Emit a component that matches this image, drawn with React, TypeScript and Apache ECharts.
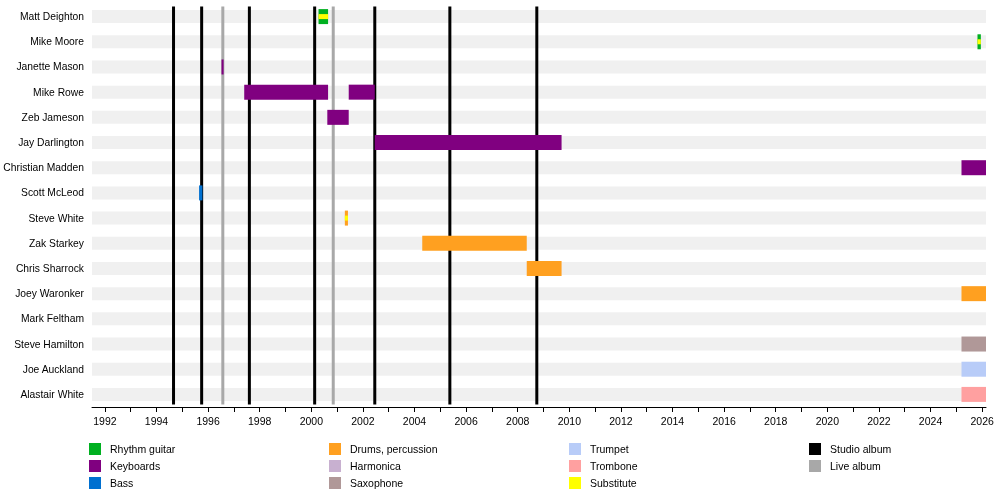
import React, { useEffect, useRef } from 'react';
import * as echarts from 'echarts';

const members = [
  'Matt Deighton', 'Mike Moore', 'Janette Mason', 'Mike Rowe', 'Zeb Jameson', 'Jay Darlington',
  'Christian Madden', 'Scott McLeod', 'Steve White', 'Zak Starkey', 'Chris Sharrock',
  'Joey Waronker', 'Mark Feltham', 'Steve Hamilton', 'Joe Auckland', 'Alastair White',
];

const roleColors: Record<string, string> = {
  guitar: '#00b020',
  keys: '#800080',
  bass: '#0070d0',
  drums: '#ffa020',
  harmonica: '#c8b0d0',
  sax: '#b09898',
  trumpet: '#b8ccf8',
  trombone: '#ffa0a0',
  sub: '#ffff00',
};

// [member index, start, end, role, substitute]
const periods: [number, number, number, string, boolean][] = [
  [0, 2000.28, 2000.65, 'guitar', true],
  [1, 2025.82, 2025.95, 'guitar', true],
  [2, 1996.52, 1996.6, 'keys', false],
  [3, 1997.4, 2000.65, 'keys', false],
  [3, 2001.45, 2002.46, 'keys', false],
  [4, 2000.62, 2001.45, 'keys', false],
  [5, 2002.46, 2009.7, 'keys', false],
  [6, 2025.2, 2026.15, 'keys', false],
  [7, 1995.65, 1995.78, 'bass', false],
  [8, 2001.3, 2001.42, 'drums', true],
  [9, 2004.3, 2008.35, 'drums', false],
  [10, 2008.35, 2009.7, 'drums', false],
  [11, 2025.2, 2026.15, 'drums', false],
  [13, 2025.2, 2026.15, 'sax', false],
  [14, 2025.2, 2026.15, 'trumpet', false],
  [15, 2025.2, 2026.15, 'trombone', false],
];

const studioAlbums = [1994.66, 1995.75, 1997.6, 2000.13, 2002.46, 2005.37, 2008.74];
const liveAlbums = [1996.57, 2000.85];

const years = Array.from({ length: 35 }, (_, i) => 1992 + i);
const labelYears = years.filter((y) => y % 2 === 0);

const legendItems: [string, string][] = [
  ['Rhythm guitar', roleColors.guitar],
  ['Keyboards', roleColors.keys],
  ['Bass', roleColors.bass],
  ['Drums, percussion', roleColors.drums],
  ['Harmonica', roleColors.harmonica],
  ['Saxophone', roleColors.sax],
  ['Trumpet', roleColors.trumpet],
  ['Trombone', roleColors.trombone],
  ['Substitute', roleColors.sub],
  ['Studio album', '#000000'],
  ['Live album', '#a8a8a8'],
];

const xMin = 1991.5;
const xMax = 2026.15;
const FONT = '"Liberation Sans", Arial, sans-serif';

const App: React.FC = () => {
  const chartRef = useRef<HTMLDivElement>(null);

  useEffect(() => {
    if (!chartRef.current) return;
    const chart = echarts.init(chartRef.current, null, { renderer: 'svg' });

    const legendGraphics: any[] = [];
    legendItems.forEach(([name, color], i) => {
      const col = Math.floor(i / 3);
      const row = i % 3;
      const x = 89 + col * 240;
      const y = 443 + row * 17;
      legendGraphics.push({ type: 'rect', shape: { x, y, width: 12, height: 12 }, style: { fill: color } });
      legendGraphics.push({
        type: 'text', x: x + 21, y: y + 6,
        style: { text: name, fill: '#000', font: `10.5px ${FONT}`, textVerticalAlign: 'middle' },
      });
    });

    const option: any = {
      animation: false,
      grid: { left: 92, right: 14, top: 4, bottom: 82, outerBoundsMode: 'none', containLabel: false },
      xAxis: {
        type: 'value',
        min: xMin,
        max: xMax,
        axisLine: { show: true, lineStyle: { color: '#000' } },
        axisTick: { show: true, customValues: years, length: 5, lineStyle: { color: '#000' } },
        axisLabel: {
          customValues: labelYears,
          formatter: (v: number) => String(v),
          color: '#000',
          fontSize: 10.5,
          fontFamily: FONT,
          margin: 8,
        },
        splitLine: { show: false },
      },
      yAxis: {
        type: 'category',
        data: members,
        inverse: true,
        axisLine: { show: false },
        axisTick: { show: false },
        axisLabel: { color: '#000', fontSize: 10.3, fontFamily: FONT, margin: 8 },
      },
      graphic: legendGraphics,
      series: [
        {
          type: 'custom',
          data: members.map((_, i) => [i]),
          renderItem: (params: any, api: any) => {
            const y = api.coord([xMin, api.value(0)])[1];
            const x0 = api.coord([xMin, 0])[0];
            const x1 = api.coord([xMax, 0])[0];
            return { type: 'rect', shape: { x: x0, y: y - 6.5, width: x1 - x0, height: 13 }, style: { fill: '#f0f0f0' } };
          },
        },
        {
          type: 'custom',
          data: [...studioAlbums.map((v) => [v, 0]), ...liveAlbums.map((v) => [v, 1])],
          renderItem: (params: any, api: any) => {
            const x = api.coord([api.value(0), 0])[0];
            const top = api.coord([xMin, 0])[1] - 10;
            const bottom = api.coord([xMin, members.length - 1])[1] + 10;
            const live = api.value(1) === 1;
            return {
              type: 'line',
              shape: { x1: x, y1: top, x2: x, y2: bottom },
              style: { stroke: live ? '#a8a8a8' : '#000', lineWidth: 3 },
            };
          },
        },
        {
          type: 'custom',
          data: periods.map((p) => [p[1], p[2], p[0]]),
          renderItem: (params: any, api: any) => {
            const p = periods[params.dataIndex];
            const a = api.coord([p[1], p[0]]);
            const b = api.coord([p[2], p[0]]);
            const w = Math.max(b[0] - a[0], 2);
            const h = 15;
            const children: any[] = [
              { type: 'rect', shape: { x: a[0], y: a[1] - h / 2, width: w, height: h }, style: { fill: roleColors[p[3]] } },
            ];
            if (p[4]) {
              children.push({ type: 'rect', shape: { x: a[0], y: a[1] - 2.5, width: w, height: 5 }, style: { fill: roleColors.sub } });
            }
            return { type: 'group', children };
          },
        },
      ],
    };

    chart.setOption(option);
    return () => chart.dispose();
  }, []);

  return <div ref={chartRef} style={{ position: 'fixed', left: 0, top: 0, width: 1000, height: 489 }} />;
};

export default App;
